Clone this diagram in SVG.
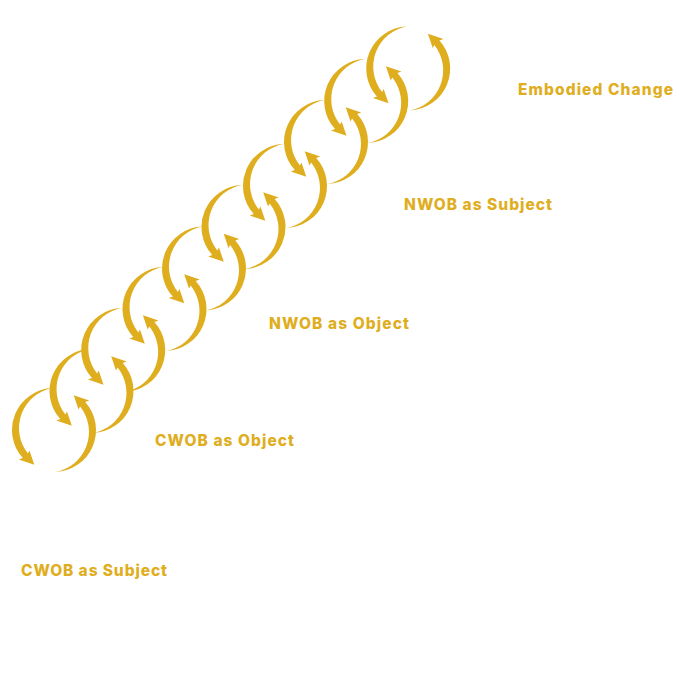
<svg xmlns="http://www.w3.org/2000/svg" xmlns:xlink="http://www.w3.org/1999/xlink" width="700" height="700" viewBox="0 0 700 700">
<style>
.arr{fill:#DFAE1F}
.lbl{font-family:Inter,"Open Sans","Liberation Sans",sans-serif;font-weight:800;font-size:15.5px;fill:#DFAE1F}
</style>
<defs>
<path id="arc" class="arr" d="M -1.47 -41.97 A 42 42 0 0 0 -31.21 28.10 L -35.24 29.57 L -19.70 34.82 L -24.51 20.57 L -26.14 23.53 A 40.8 40.8 0 0 1 -1.47 -41.97 Z"/>
<g id="cyc"><use href="#arc" xlink:href="#arc"/><use href="#arc" xlink:href="#arc" transform="rotate(180)"/></g>
</defs>
<rect width="700" height="700" fill="#FFFFFF"/>
<g id="cycles">
<g id="cycle1" transform="translate(54,430)"><use href="#cyc" xlink:href="#cyc"/></g>
<g id="cycle2" transform="translate(91.5,391)"><use href="#cyc" xlink:href="#cyc"/></g>
<g id="cycle3" transform="translate(123.2,350)"><use href="#cyc" xlink:href="#cyc"/></g>
<g id="cycle4" transform="translate(164.5,309)"><use href="#cyc" xlink:href="#cyc"/></g>
<g id="cycle5" transform="translate(204,268.5)"><use href="#cyc" xlink:href="#cyc"/></g>
<g id="cycle6" transform="translate(243.5,227)"><use href="#cyc" xlink:href="#cyc"/></g>
<g id="cycle7" transform="translate(285,186)"><use href="#cyc" xlink:href="#cyc"/></g>
<g id="cycle8" transform="translate(326,142)"><use href="#cyc" xlink:href="#cyc"/></g>
<g id="cycle9" transform="translate(366.2,101)"><use href="#cyc" xlink:href="#cyc"/></g>
<g id="cycle10" transform="translate(408.2,68.5)"><use href="#cyc" xlink:href="#cyc"/></g>
</g>
<g id="labels">
<text id="embodied-change" class="lbl" x="518" y="95" textLength="155">Embodied Change</text>
<text id="nwob-subject" class="lbl" x="404" y="209.5" textLength="148">NWOB as Subject</text>
<text id="nwob-object" class="lbl" x="269" y="328.5" textLength="140">NWOB as Object</text>
<text id="cwob-object" class="lbl" x="155" y="445.5" textLength="139">CWOB as Object</text>
<text id="cwob-subject" class="lbl" x="21" y="575.7" textLength="146">CWOB as Subject</text>
</g>
<g id="connectors"/>
</svg>
